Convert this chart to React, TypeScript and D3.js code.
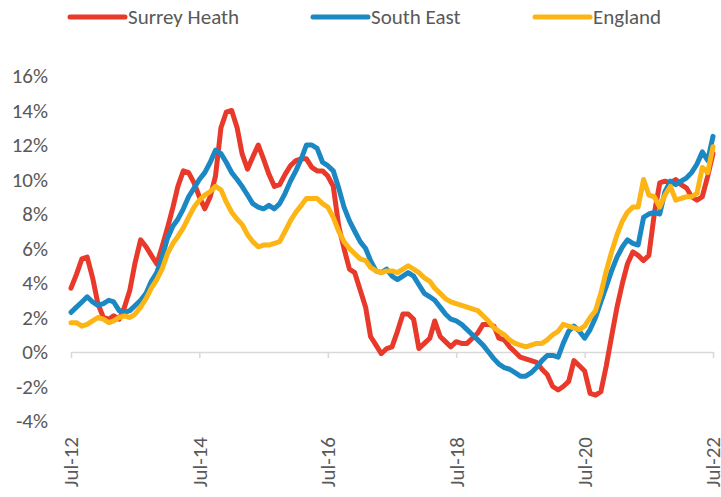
import * as d3 from 'd3';
import React, { useEffect, useRef } from 'react';

// monthly % change, Jul-12 .. Jul-22
const surreyHeath = [
  3.7, 4.5, 5.4, 5.5, 4.3, 2.8, 2.0, 1.9, 2.1, 1.9, 2.6, 3.6,
  5.2, 6.5, 6.1, 5.6, 5.1, 6.1, 7.2, 8.4, 9.6, 10.5, 10.4, 9.8,
  9.0, 8.3, 9.0, 10.2, 13.0, 13.9, 14.0, 13.0, 11.5, 10.6, 11.3, 12.0,
  11.2, 10.3, 9.6, 9.7, 10.3, 10.8, 11.1, 11.2, 11.2, 10.7, 10.5, 10.5,
  10.2, 9.6, 7.3, 6.0, 4.8, 4.6, 3.6, 2.6, 0.9, 0.4, -0.1, 0.2,
  0.3, 1.2, 2.2, 2.2, 1.9, 0.2, 0.5, 0.8, 1.8, 0.9, 0.6, 0.3,
  0.6, 0.5, 0.5, 0.8, 1.1, 1.6, 1.6, 1.5, 0.8, 0.7, 0.3, 0.0,
  -0.3, -0.4, -0.5, -0.6, -1.0, -1.3, -2.0, -2.2, -2.0, -1.7, -0.5, -0.8,
  -1.1, -2.4, -2.5, -2.3, -0.8, 0.9, 2.6, 4.0, 5.1, 5.8, 5.6, 5.3,
  5.6, 8.0, 9.8, 9.9, 9.8, 10.0, 9.7, 9.5, 9.0, 8.8, 9.0, 10.2,
  11.5
];

const southEast = [
  2.3, 2.6, 2.9, 3.2, 2.9, 2.7, 2.8, 3.0, 2.9, 2.4, 2.3, 2.4,
  2.7, 3.0, 3.4, 4.1, 4.6, 5.5, 6.6, 7.3, 7.7, 8.3, 9.0, 9.5,
  10.0, 10.4, 11.0, 11.7, 11.5, 11.0, 10.4, 10.0, 9.6, 9.1, 8.6, 8.4,
  8.3, 8.5, 8.3, 8.6, 9.2, 9.9, 10.5, 11.2, 12.0, 12.0, 11.8, 11.0,
  10.8, 10.5, 9.5, 8.4, 7.6, 7.0, 6.4, 6.0, 5.3, 4.7, 4.6, 4.8,
  4.4, 4.2, 4.4, 4.6, 4.4, 3.9, 3.4, 3.2, 3.0, 2.6, 2.2, 1.9,
  1.8, 1.6, 1.3, 1.0, 0.7, 0.4, 0.0, -0.4, -0.7, -0.9, -1.0, -1.2,
  -1.4, -1.4, -1.2, -0.9, -0.5, -0.2, -0.2, -0.3, 0.5, 1.2, 1.5, 1.2,
  0.8, 1.3, 2.0, 2.9, 3.8, 4.7, 5.5, 6.1, 6.5, 6.3, 6.2, 7.8,
  8.0, 8.1, 8.0, 9.3, 9.9, 9.7, 9.9, 10.1, 10.4, 10.9, 11.6, 11.1,
  12.5
];

const england = [
  1.7, 1.7, 1.5, 1.6, 1.8, 2.0, 1.9, 1.7, 1.8, 2.0, 2.1, 2.0,
  2.2, 2.6, 3.1, 3.7, 4.2, 4.8, 5.7, 6.3, 6.7, 7.2, 7.8, 8.4,
  8.8, 9.1, 9.3, 9.6, 9.4, 8.7, 8.1, 7.7, 7.4, 6.8, 6.4, 6.1,
  6.2, 6.2, 6.3, 6.4, 7.0, 7.6, 8.1, 8.5, 8.9, 8.9, 8.9, 8.6,
  8.4, 7.8, 7.0, 6.4, 6.0, 5.7, 5.4, 5.3, 4.9, 4.7, 4.6, 4.7,
  4.7, 4.6, 4.8, 5.0, 4.8, 4.6, 4.3, 4.1, 3.7, 3.4, 3.1, 2.9,
  2.8, 2.7, 2.6, 2.5, 2.4, 2.1, 1.8, 1.4, 1.2, 1.0, 0.7, 0.5,
  0.4, 0.3, 0.4, 0.5, 0.5, 0.7, 1.0, 1.2, 1.6, 1.5, 1.4, 1.3,
  1.5, 2.0, 2.4, 3.4, 4.7, 5.8, 6.8, 7.6, 8.1, 8.4, 8.4, 10.0,
  9.1, 9.0, 8.4, 9.1, 9.6, 8.8, 8.9, 9.0, 9.0, 9.2, 10.7, 10.4,
  11.9
];

const seriesNames = ['Surrey Heath', 'South East', 'England'];
const seriesColors = ['#e8392a', '#1b88c3', '#fdb515'];
const yTicks = [-4, -2, 0, 2, 4, 6, 8, 10, 12, 14, 16];
const xTickLabels = ['Jul-12', 'Jul-14', 'Jul-16', 'Jul-18', 'Jul-20', 'Jul-22'];
const startMonth = new Date(2012, 6, 1);
const endMonth = new Date(2022, 6, 1);

const FONT = "Carlito, Calibri, 'Liberation Sans Narrow', 'Liberation Sans', sans-serif";
const TEXT = '#595959';

export default function App() {
  const ref = useRef<SVGSVGElement>(null);

  useEffect(() => {
    const svg = d3.select(ref.current);
    svg.selectAll('*').remove();

    const months = surreyHeath.map((d, i) => d3.timeMonth.offset(startMonth, i));
    const x = d3.scaleTime().domain([startMonth, endMonth]).range([71, 713]);
    const y = d3.scaleLinear().domain([-4, 16]).range([421, 76]);

    // y labels
    svg.append('g')
      .selectAll('text')
      .data(yTicks)
      .enter()
      .append('text')
      .attr('x', 48)
      .attr('y', d => y(d))
      .attr('dy', '0.35em')
      .attr('text-anchor', 'end')
      .style('font-family', FONT)
      .style('font-size', '21px')
      .style('fill', TEXT)
      .text(d => d + '%');

    // x axis at 0%, a tick every two years
    const xTickDates = xTickLabels.map((d, i) => d3.timeMonth.offset(startMonth, i * 24));
    const xAxis = svg.append('g').attr('transform', 'translate(0,' + y(0) + ')');
    xAxis.call(
      d3.axisBottom(x)
        .tickValues(xTickDates)
        .tickSize(6)
        .tickSizeOuter(0)
        .tickFormat(() => '')
    );
    xAxis.select('.domain').attr('stroke', '#d9d9d9').attr('stroke-width', 1.5);
    xAxis.selectAll('.tick line').attr('stroke', '#d9d9d9').attr('stroke-width', 1.5);

    // x labels at the bottom, rotated
    svg.append('g')
      .selectAll('text')
      .data(xTickDates)
      .enter()
      .append('text')
      .attr('transform', d => 'translate(' + x(d) + ',437) rotate(-90)')
      .attr('dy', '0.35em')
      .attr('text-anchor', 'end')
      .style('font-family', FONT)
      .style('font-size', '21px')
      .style('fill', TEXT)
      .text((d, i) => xTickLabels[i]);

    // lines
    const line = d3.line<number>()
      .x((d, i) => x(months[i]))
      .y(d => y(d));

    svg.append('g')
      .selectAll('path')
      .data([surreyHeath, southEast, england])
      .enter()
      .append('path')
      .attr('d', d => line(d))
      .attr('fill', 'none')
      .attr('stroke', (d, i) => seriesColors[i])
      .attr('stroke-width', 5)
      .attr('stroke-linejoin', 'round')
      .attr('stroke-linecap', 'round');

    // legend
    const legendX = [70, 313, 535];
    const legend = svg.append('g')
      .selectAll('g')
      .data(seriesNames)
      .enter()
      .append('g')
      .attr('transform', (d, i) => 'translate(' + legendX[i] + ',17)');
    legend.append('line')
      .attr('x1', 0).attr('x2', 55)
      .attr('stroke', (d, i) => seriesColors[i])
      .attr('stroke-width', 5)
      .attr('stroke-linecap', 'round');
    legend.append('text')
      .attr('x', 58)
      .attr('dy', '0.35em')
      .style('font-family', FONT)
      .style('font-size', '21px')
      .style('fill', TEXT)
      .text(d => d);
  }, []);

  return (
    <svg ref={ref} width={721} height={497}
      style={{ position: 'absolute', left: 0, top: 0, background: '#fff' }} />
  );
}
